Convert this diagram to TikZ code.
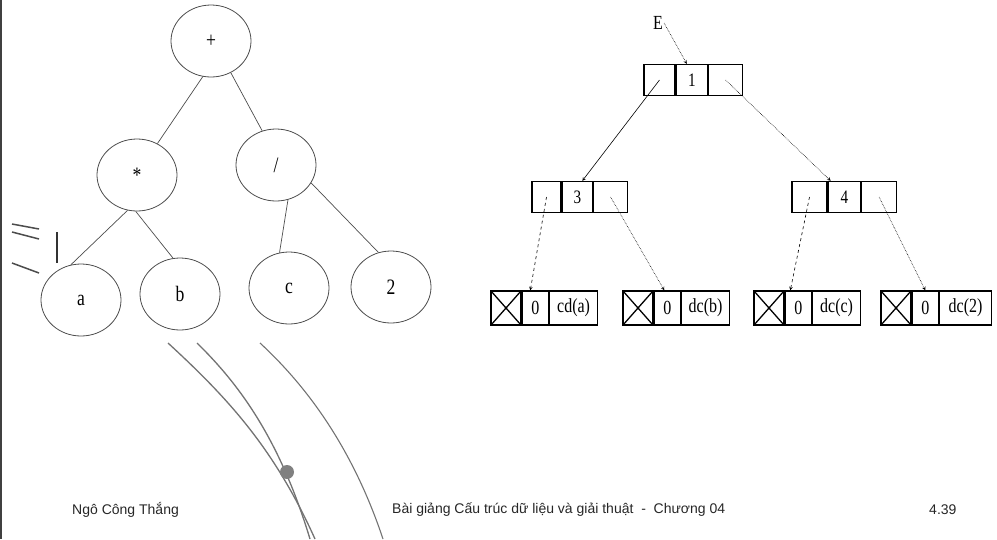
\documentclass[tikz,border=0pt]{standalone}
\usepackage{fontspec}
\usepackage{graphicx}
\setmainfont{Liberation Serif}
\newfontfamily\footfont{Liberation Sans}
\usetikzlibrary{shapes.geometric,positioning}

\newcommand{\narrow}[1]{\scalebox{0.8}[1]{#1}}

\tikzset{
  treenode/.style={draw=black!70, ellipse, line width=0.8, minimum width=80, minimum height=72, inner sep=0pt, font=\fontsize{22}{23}\selectfont},
  edge/.style={black!70, line width=0.7},
  cell/.style={draw, line width=1.3, minimum height=31, inner sep=0pt, font=\fontsize{19}{20}\selectfont},
  leafcell/.style={cell, minimum height=34, font=\fontsize{20}{21}\selectfont},
  xcell/.style={leafcell, minimum width=30, path picture={\draw[line width=1.3] (path picture bounding box.north west) -- (path picture bounding box.south east) (path picture bounding box.south west) -- (path picture bounding box.north east);}},
  ptr/.style={-stealth, line width=0.6},
  foot/.style={anchor=west, text=black!85, font=\footfont\fontsize{14}{16}\selectfont},
}

\begin{document}
\begin{tikzpicture}[x=1pt,y=-1pt]
	\useasboundingbox (0,0) rectangle (997,539);
	\draw[black!75, line width=2](1,0)--(1,539);
	% expression tree
	\node[treenode] (plus) at (211,41) {\narrow{+}};
	\node[treenode] (times) at (137,175) {\narrow{*}};
	\node[treenode] (div) at (276,165) {\narrow{/}};
	\node[treenode] (a) at (81,300) {\narrow{a}};
	\node[treenode] (b) at (180,294) {\narrow{b}};
	\node[treenode] (c) at (289,288) {\narrow{c}};
	\node[treenode] (two) at (391,287) {\narrow{2}};
	\draw[edge](plus.257)--(times.57);
	\draw[edge](plus.302)--(div.112);
	\draw[edge](times.255)--(a.106);
	\draw[edge](times.268)--(b.101);
	\draw[edge](div.289)--(c.105);
	\draw[edge](div.333)--(two.110);
	% stray marks
	\draw[black!70, line width=1.5](12,224)--(39,229) (12,232)--(39,239) (12,263)--(39,273);
	\draw[black!80, line width=2](57,232)--(57,263);
	% curves
	\draw[black!55, line width=1.3](168,343) .. controls (230,400) and (275,450) .. (315,539);
	\draw[black!55, line width=1.3](197,343) .. controls (240,385) and (280,440) .. (310,539);
	\draw[black!55, line width=1.1](260,343) .. controls (300,380) and (350,440) .. (383,539);
	\fill[black!50](287,472) circle (7);
	% linked representation
	\node[inner sep=1pt, font=\fontsize{20}{21}\selectfont] (E) at (658,23) {\narrow{E}};
	\node[cell, minimum width=31] (r1l) at (659.5,80) {};
	\node[cell, minimum width=31, right=0pt of r1l] (r1m) {\narrow{1}};
	\node[cell, minimum width=34, right=0pt of r1m] (r1r) {};
	\node[cell, minimum width=29] (r3l) at (546.5,197) {};
	\node[cell, minimum width=30, right=0pt of r3l] (r3m) {\narrow{3}};
	\node[cell, minimum width=34, right=0pt of r3m] (r3r) {};
	\node[cell, minimum width=35] (r4l) at (809.5,197) {};
	\node[cell, minimum width=32, right=0pt of r4l] (r4m) {\narrow{4}};
	\node[cell, minimum width=35, right=0pt of r4m] (r4r) {};
	% leaves
	\node[xcell] (lax) at (506,308) {};
	\node[leafcell, minimum width=26, right=0pt of lax] (la0) {\narrow{0}};
	\node[leafcell, minimum width=48, right=0pt of la0] (lad) {\narrow{cd(a)}};
	\node[xcell] (lbx) at (638,308) {};
	\node[leafcell, minimum width=26, right=0pt of lbx] (lb0) {\narrow{0}};
	\node[leafcell, minimum width=48, right=0pt of lb0] (lbd) {\narrow{dc(b)}};
	\node[xcell] (lcx) at (769,308) {};
	\node[leafcell, minimum width=26, right=0pt of lcx] (lc0) {\narrow{0}};
	\node[leafcell, minimum width=48, right=0pt of lc0] (lcd) {\narrow{dc(c)}};
	\node[xcell] (l2x) at (896,308) {};
	\node[leafcell, minimum width=26, right=0pt of l2x] (l20) {\narrow{0}};
	\node[leafcell, minimum width=52, right=0pt of l20] (l2d) {\narrow{dc(2)}};
	% pointers
	\draw[ptr, densely dotted](E.east)--([xshift=-5]r1m.north);
	\draw[ptr](r1l.center)--([xshift=5]r3m.north);
	\draw[ptr, densely dotted](r1r.center)--([xshift=3]r4m.north west);
	\draw[ptr, dashed](r3l.center)--([xshift=-5]la0.north);
	\draw[ptr, densely dotted](r3r.center)--([xshift=-3]lb0.north);
	\draw[ptr, dashed](r4l.center)--([xshift=-8]lc0.north);
	\draw[ptr, densely dotted](r4r.center)--(l20.north);
	% footer
	\node[foot] (author) at (68.7,510) {Ngô Công Thắng};
	\node[foot] (title) at (388.7,510) {Bài giảng Cấu trúc dữ liệu và giải thuật~ -~ Chương 04};
	\node[foot] (page) at (925.7,510) {4.39};
\end{tikzpicture}
\end{document}
